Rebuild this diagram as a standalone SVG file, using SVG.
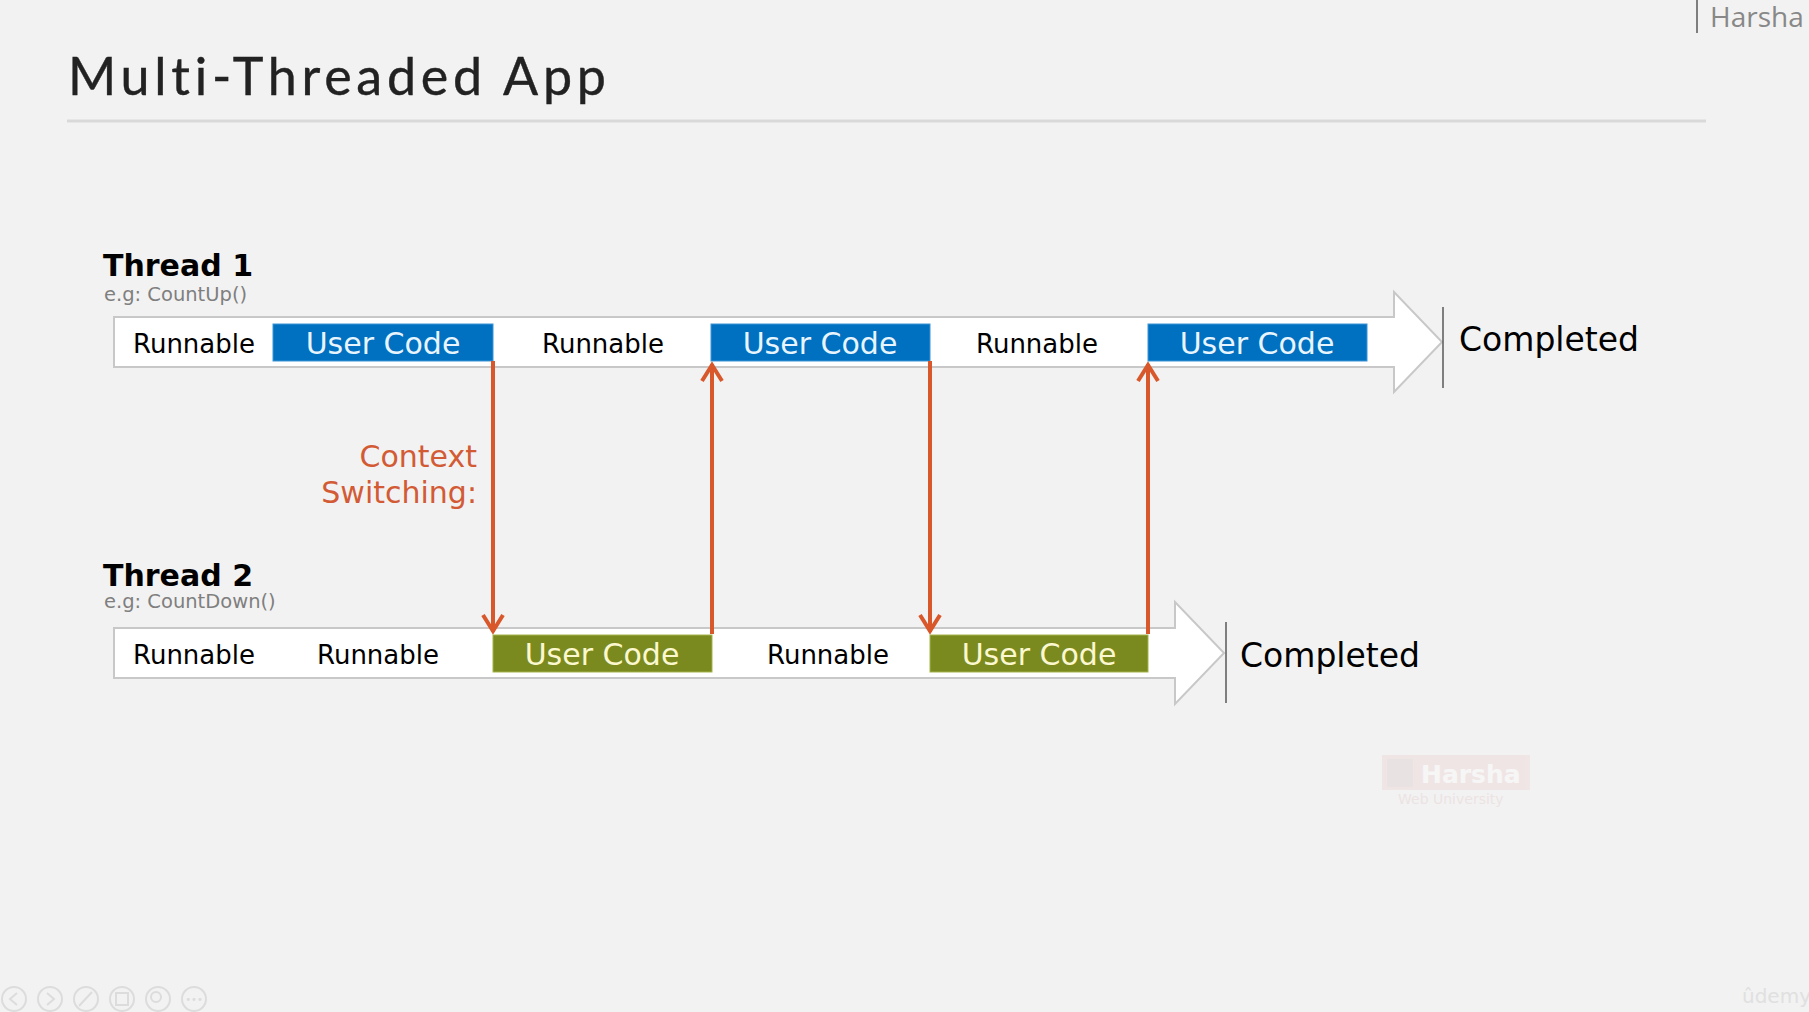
<svg xmlns="http://www.w3.org/2000/svg" width="1809" height="1012" viewBox="0 0 1809 1012">
<style>
.bg{fill:#f2f2f2}
.title{font-family:Lato,"Open Sans",sans-serif;font-size:52px;fill:#222;font-variant-ligatures:none;stroke:#222;stroke-width:0.4}
.thr{font-family:"DejaVu Sans",Verdana,sans-serif;font-weight:bold;font-size:30px;fill:#000}
.eg{font-family:"DejaVu Sans",Verdana,sans-serif;font-size:19.5px;fill:#7f7f7f}
.bar{fill:#fff;stroke:#c8c8c8;stroke-width:2}
.run{font-family:"DejaVu Sans",Verdana,sans-serif;font-size:26px;fill:#000;text-anchor:middle}
.uc{font-family:"DejaVu Sans",Verdana,sans-serif;font-size:30px;text-anchor:middle}
.blue{fill:#0070c0;stroke:#3d95d6;stroke-width:1}
.green{fill:#7b8a1f;stroke:#a5b34a;stroke-width:1}
.ucb{fill:#e8f5ff}
.ucg{fill:#fbf8cf}
.done{font-family:"DejaVu Sans",Verdana,sans-serif;font-size:33px;fill:#000}
.vl{stroke:#595959;stroke-width:1.5}
.cs{stroke:#d9582b;stroke-width:4;fill:none}
.ctx{font-family:"DejaVu Sans",Verdana,sans-serif;font-size:30px;fill:#d25b35;text-anchor:end}
.ic{fill:none;stroke:#dcdcdc;stroke-width:2}
</style>
<defs>
<marker id="ah" markerUnits="userSpaceOnUse" markerWidth="40" markerHeight="40" viewBox="-25 -20 40 40" refX="0" refY="0" orient="auto" overflow="visible">
<path d="M-17,-10 L-1,0 L-17,10" fill="none" stroke="#d9582b" stroke-width="4" stroke-linejoin="miter"/>
</marker>
</defs>
<rect class="bg" x="0" y="0" width="1809" height="1012"/>

<g id="header">
<text class="title" x="68" y="95" textLength="538" lengthAdjust="spacing">Multi-Threaded App</text>
<line x1="67" y1="121" x2="1706" y2="121" stroke="#d9d9d9" stroke-width="3"/>
<line x1="1697" y1="0" x2="1697" y2="33" stroke="#7f7f7f" stroke-width="2"/>
<text x="1710" y="27" font-family="'Open Sans',sans-serif" font-size="28" fill="#888">Harsha</text>
</g>

<g id="thread1">
<text class="thr" x="103" y="276">Thread 1</text>
<text class="eg" x="104" y="301">e.g: CountUp()</text>
<path class="bar" d="M114,317 H1394 V292 L1442,342 L1394,392 V367 H114 Z"/>
<text class="run" x="194" y="353">Runnable</text>
<rect class="blue" x="273" y="324" width="220" height="37"/>
<text class="uc ucb" x="383" y="354">User Code</text>
<text class="run" x="603" y="353">Runnable</text>
<rect class="blue" x="711" y="324" width="219" height="37"/>
<text class="uc ucb" x="820" y="354">User Code</text>
<text class="run" x="1037" y="353">Runnable</text>
<rect class="blue" x="1148" y="324" width="219" height="37"/>
<text class="uc ucb" x="1257" y="354">User Code</text>
<line class="vl" x1="1443" y1="307" x2="1443" y2="388"/>
<text class="done" x="1459" y="351">Completed</text>
</g>

<g id="thread2">
<text class="thr" x="103" y="586">Thread 2</text>
<text class="eg" x="104" y="608">e.g: CountDown()</text>
<path class="bar" d="M114,628 H1175 V602 L1224,653 L1175,704 V678 H114 Z"/>
<text class="run" x="194" y="664">Runnable</text>
<text class="run" x="378" y="664">Runnable</text>
<rect class="green" x="493" y="635" width="219" height="37"/>
<text class="uc ucg" x="602" y="665">User Code</text>
<text class="run" x="828" y="664">Runnable</text>
<rect class="green" x="930" y="635" width="218" height="37"/>
<text class="uc ucg" x="1039" y="665">User Code</text>
<line class="vl" x1="1226" y1="622" x2="1226" y2="703"/>
<text class="done" x="1240" y="667">Completed</text>
</g>

<g id="context-label">
<text class="ctx" x="477" y="467">Context</text>
<text class="ctx" x="477" y="503">Switching:</text>
</g>

<g id="connectors">
<line class="cs" x1="493" y1="361" x2="493" y2="632" marker-end="url(#ah)"/>
<line class="cs" x1="712" y1="634" x2="712" y2="364" marker-end="url(#ah)"/>
<line class="cs" x1="930" y1="361" x2="930" y2="632" marker-end="url(#ah)"/>
<line class="cs" x1="1148" y1="634" x2="1148" y2="364" marker-end="url(#ah)"/>
</g>

<g id="watermark" opacity="0.6">
<rect x="1382" y="755" width="148" height="35" fill="#f0dede"/>
<rect x="1387" y="759" width="26" height="28" fill="#e2d8d8"/>
<text x="1421" y="783" font-family="'DejaVu Sans',sans-serif" font-weight="bold" font-size="25" fill="#fafafa">Harsha</text>
<text x="1398" y="804" font-family="'DejaVu Sans',sans-serif" font-size="14" fill="#ead9d9">Web University</text>
</g>

<g id="player-icons">
<circle class="ic" cx="14" cy="999" r="12"/>
<path class="ic" d="M17,993 L10,999 L17,1005"/>
<circle class="ic" cx="50" cy="999" r="12"/>
<path class="ic" d="M47,993 L54,999 L47,1005"/>
<circle class="ic" cx="86" cy="999" r="12"/>
<path class="ic" d="M79,1006 L92,992"/>
<circle class="ic" cx="122" cy="999" r="12"/>
<rect class="ic" x="116" y="993" width="12" height="12"/>
<circle class="ic" cx="158" cy="999" r="12"/>
<circle class="ic" cx="156" cy="997" r="5"/>
<circle class="ic" cx="194" cy="999" r="12"/>
<text x="194" y="1003" font-family="'DejaVu Sans',sans-serif" font-size="10" fill="#dcdcdc" text-anchor="middle">•••</text>
</g>
<text x="1742" y="1003" font-family="'DejaVu Sans',sans-serif" font-size="20" fill="#e0e0e0">ûdemy</text>
</svg>
